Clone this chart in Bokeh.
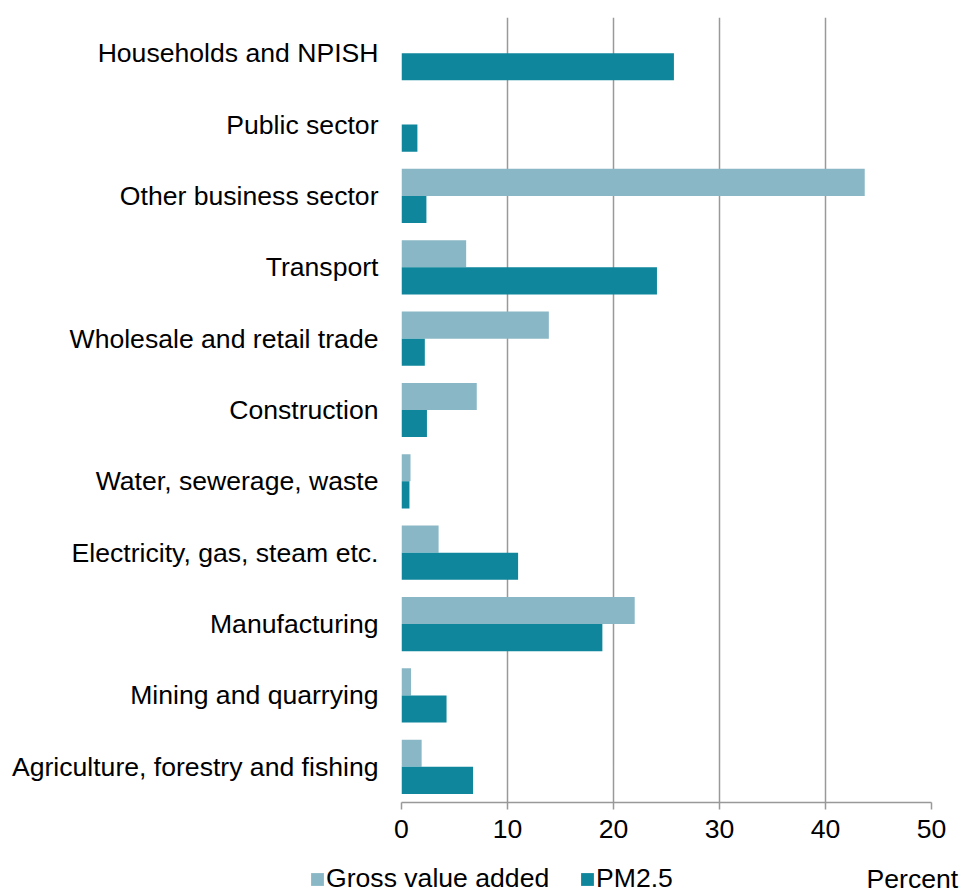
from bokeh.plotting import figure
from bokeh.layouts import column
from bokeh.models import ColumnDataSource, FactorRange, Range1d, FixedTicker, Legend, LegendItem, Label
from bokeh.transform import dodge
from bokeh.embed import file_html
from bokeh.resources import INLINE

categories = [
    "Agriculture, forestry and fishing",
    "Mining and quarrying",
    "Manufacturing",
    "Electricity, gas, steam etc.",
    "Water, sewerage, waste",
    "Construction",
    "Wholesale and retail trade",
    "Transport",
    "Other business sector",
    "Public sector",
    "Households and NPISH",
]
gross_value_added = [1.9, 0.9, 22.0, 3.5, 0.85, 7.1, 13.9, 6.1, 43.7, float("nan"), float("nan")]
pm25 = [6.75, 4.25, 18.95, 11.0, 0.75, 2.4, 2.2, 24.1, 2.35, 1.5, 25.7]
x_ticks = [0, 10, 20, 30, 40, 50]
series_names = ["Gross value added", "PM2.5"]
unit_label = "Percent"

GVA_COLOR = "#89B7C6"
PM_COLOR = "#0F869B"
FONT = "Liberation Sans"
FS = "26.6px"

src = ColumnDataSource(dict(cat=categories, gva=gross_value_added, pm=pm25))
y_range = FactorRange(*categories)
x_range = Range1d(0, 50)

# ---------------- main chart ----------------
p = figure(
    width=963, height=853,
    y_range=y_range, x_range=x_range,
    output_backend="svg", toolbar_location=None,
    min_border_left=401, min_border_right=32, min_border_top=17, min_border_bottom=51,
)
p.outline_line_color = None

p.hbar(y=dodge("cat", 0.19, range=y_range), right="gva", left=0, height=0.38,
       source=src, fill_color=GVA_COLOR, line_color=None)
p.hbar(y=dodge("cat", -0.19, range=y_range), right="pm", left=0, height=0.38,
       source=src, fill_color=PM_COLOR, line_color=None)

p.xaxis.ticker = FixedTicker(ticks=x_ticks)
p.xaxis.axis_line_color = "#999999"
p.xaxis.axis_line_width = 1.5
p.xaxis.major_tick_line_color = "#999999"
p.xaxis.major_tick_line_width = 1.5
p.xaxis.major_tick_out = 7
p.xaxis.major_tick_in = 0
p.xaxis.minor_tick_line_color = None
p.xaxis.major_label_text_font = FONT
p.xaxis.major_label_text_font_size = FS
p.xaxis.major_label_text_color = "black"
p.xaxis.major_label_standoff = 10

p.yaxis.axis_line_color = None
p.yaxis.major_tick_line_color = None
p.yaxis.major_tick_out = 0
p.yaxis.major_tick_in = 0
p.yaxis.major_label_text_font = FONT
p.yaxis.major_label_text_font_size = FS
p.yaxis.major_label_text_color = "black"
p.yaxis.major_label_standoff = 23

p.ygrid.grid_line_color = None
p.xgrid.grid_line_color = "#999999"
p.xgrid.grid_line_width = 1.5

# ---------------- legend strip ----------------
q = figure(
    width=963, height=40,
    y_range=y_range, x_range=x_range,
    x_axis_type=None, y_axis_type=None,
    output_backend="svg", toolbar_location=None,
    min_border=0,
)
q.outline_line_color = None
q1 = q.hbar(y="cat", right="gva", left=0, height=0.38, source=src,
            fill_color=GVA_COLOR, line_color=None, visible=False)
q2 = q.hbar(y="cat", right="pm", left=0, height=0.38, source=src,
            fill_color=PM_COLOR, line_color=None, visible=False)

legend = Legend(
    items=[LegendItem(label=series_names[0], renderers=[q1]),
           LegendItem(label=series_names[1], renderers=[q2])],
    orientation="horizontal",
    location=(309, -1),
    padding=0, margin=0, spacing=29,
    glyph_width=16, glyph_height=16, label_standoff=1, label_width=224,
    label_text_font=FONT, label_text_font_size=FS, label_text_color="black",
    border_line_color=None, background_fill_alpha=0,
    inactive_fill_alpha=0,
)
q.add_layout(legend, "center")

pct = Label(x=866, y=15, x_units="screen", y_units="screen", text=unit_label,
            text_font=FONT, text_font_size=FS, text_color="black",
            text_align="left", text_baseline="middle")
q.add_layout(pct)

if "frame_align" in q.properties():
    p.frame_align = False
    q.frame_align = False
    layout = column(p, q, spacing=0)
else:
    layout = column(p, column(q, spacing=0), spacing=0)

open("out.html", "w").write(file_html(layout, INLINE))
